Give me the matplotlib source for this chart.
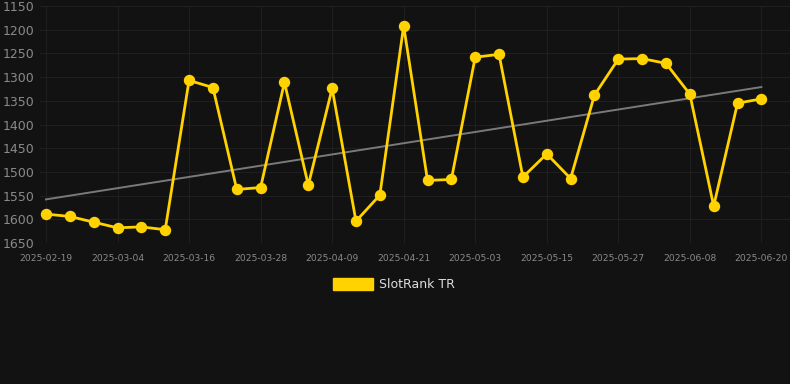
'''
SlotRank TR rank history with a linear trend line.
'''

import numpy as np
import matplotlib
matplotlib.use('Agg')
import matplotlib.pyplot as plt


RANKS = [
    1589, 1594, 1606, 1618, 1616, 1622, 1307, 1322, 1537, 1533,
    1311, 1528, 1324, 1604, 1549, 1192, 1518, 1516, 1258, 1252,
    1511, 1462, 1514, 1338, 1262, 1261, 1271, 1336, 1572, 1355,
    1346,
]
TICK_LABELS = [
    '2025-02-19', '2025-03-04', '2025-03-16', '2025-03-28', '2025-04-09',
    '2025-04-21', '2025-05-03', '2025-05-15', '2025-05-27', '2025-06-08',
    '2025-06-20',
]
Y_TICKS = [1150, 1200, 1250, 1300, 1350, 1400, 1450, 1500, 1550, 1600, 1650]
SERIES_NAME = 'SlotRank TR'

BG = '#121212'
GOLD = '#ffd200'


def main() -> None:
    x = np.arange(len(RANKS))
    slope, intercept = np.polyfit(x, RANKS, 1)

    fig = plt.figure(figsize=(7.9, 3.84), dpi=100, facecolor=BG)
    ax = fig.add_axes([40 / 790, 1 - 243 / 384, 750 / 790, 237 / 384])
    ax.set_facecolor(BG)

    ax.plot(x, slope * x + intercept, color='#7a7a7a', lw=1.4, zorder=2)
    ax.plot(x, RANKS, color=GOLD, lw=2.0, marker='o', markersize=7.2,
            zorder=3)

    ax.set_xlim(-0.25, 31.2)
    ax.set_ylim(1650, 1150)
    ax.set_yticks(Y_TICKS)
    ax.set_xticks(x[::3])
    ax.set_xticklabels(TICK_LABELS)
    ax.grid(True, color='#1f1f1f', lw=0.8)
    ax.set_axisbelow(True)
    for spine in ax.spines.values():
        spine.set_visible(False)
    ax.tick_params(axis='both', length=0, colors='#8a8a8a')
    ax.tick_params(axis='y', labelsize=9, pad=4)
    ax.tick_params(axis='x', labelsize=6.6, pad=8)

    # legend drawn by hand below the plot
    fig.patches.append(plt.Rectangle((333 / 790, 1 - 290 / 384), 40 / 790,
                                     12 / 384, transform=fig.transFigure,
                                     color=GOLD))
    fig.text(379 / 790, 1 - 284 / 384, SERIES_NAME, color='#dddddd',
             fontsize=9, va='center', ha='left')

    fig.savefig('out.png', facecolor=BG)


if __name__ == '__main__':
    main()
